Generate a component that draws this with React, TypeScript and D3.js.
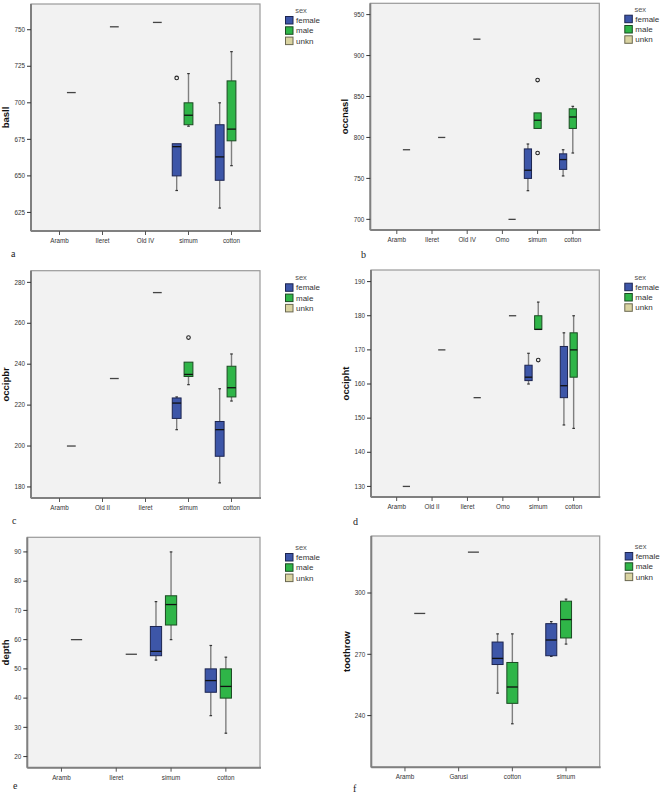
import React from "react";
import * as d3 from "d3";

type Box = { cat: string; sex: string; min: number; q1: number; med: number; q3: number; max: number };
type Out = { cat: string; sex: string; v: number };

const SEXES = ["female", "male", "unkn"];
const SEX_FILL: Record<string, string> = { female: "#3d56a8", male: "#2fb548", unkn: "#d9d3a1" };
const SEX_STROKE: Record<string, string> = { female: "#1c2450", male: "#1b4a22", unkn: "#6b6850" };

// ---- panel a : basll
const aCategories = ["Aramb", "Ileret", "Old IV", "simum", "cotton"];
const aTicks = [625, 650, 675, 700, 725, 750];
const aBoxes: Box[] = [
  { cat: "Aramb", sex: "unkn", min: 707, q1: 707, med: 707, q3: 707, max: 707 },
  { cat: "Ileret", sex: "unkn", min: 752, q1: 752, med: 752, q3: 752, max: 752 },
  { cat: "Old IV", sex: "unkn", min: 755, q1: 755, med: 755, q3: 755, max: 755 },
  { cat: "simum", sex: "female", min: 640, q1: 650, med: 670, q3: 672, max: 672 },
  { cat: "simum", sex: "male", min: 684, q1: 685, med: 691.5, q3: 700, max: 720 },
  { cat: "cotton", sex: "female", min: 628, q1: 647, med: 663, q3: 685, max: 700 },
  { cat: "cotton", sex: "male", min: 657, q1: 674, med: 682, q3: 715, max: 735 },
];
const aOutliers: Out[] = [{ cat: "simum", sex: "female", v: 717 }];

// ---- panel b : occnasl
const bCategories = ["Aramb", "Ileret", "Old IV", "Omo", "simum", "cotton"];
const bTicks = [700, 750, 800, 850, 900, 950];
const bBoxes: Box[] = [
  { cat: "Aramb", sex: "unkn", min: 785, q1: 785, med: 785, q3: 785, max: 785 },
  { cat: "Ileret", sex: "unkn", min: 800, q1: 800, med: 800, q3: 800, max: 800 },
  { cat: "Old IV", sex: "unkn", min: 920, q1: 920, med: 920, q3: 920, max: 920 },
  { cat: "Omo", sex: "unkn", min: 700, q1: 700, med: 700, q3: 700, max: 700 },
  { cat: "simum", sex: "female", min: 735, q1: 750, med: 760, q3: 786, max: 792 },
  { cat: "simum", sex: "male", min: 811, q1: 811, med: 821, q3: 830, max: 830 },
  { cat: "cotton", sex: "female", min: 753, q1: 761, med: 773, q3: 780, max: 785 },
  { cat: "cotton", sex: "male", min: 781, q1: 811, med: 825, q3: 835, max: 838 },
];
const bOutliers: Out[] = [
  { cat: "simum", sex: "male", v: 870 },
  { cat: "simum", sex: "male", v: 781 },
];

// ---- panel c : occipbr
const cCategories = ["Aramb", "Old II", "Ileret", "simum", "cotton"];
const cTicks = [180, 200, 220, 240, 260, 280];
const cBoxes: Box[] = [
  { cat: "Aramb", sex: "unkn", min: 200, q1: 200, med: 200, q3: 200, max: 200 },
  { cat: "Old II", sex: "unkn", min: 233, q1: 233, med: 233, q3: 233, max: 233 },
  { cat: "Ileret", sex: "unkn", min: 275, q1: 275, med: 275, q3: 275, max: 275 },
  { cat: "simum", sex: "female", min: 208, q1: 213.5, med: 221, q3: 223.5, max: 224 },
  { cat: "simum", sex: "male", min: 230, q1: 234, med: 235, q3: 241, max: 241 },
  { cat: "cotton", sex: "female", min: 182, q1: 195, med: 208, q3: 212, max: 228 },
  { cat: "cotton", sex: "male", min: 222, q1: 224, med: 228.5, q3: 239, max: 245 },
];
const cOutliers: Out[] = [{ cat: "simum", sex: "male", v: 253 }];

// ---- panel d : occipht
const dCategories = ["Aramb", "Old II", "Ileret", "Omo", "simum", "cotton"];
const dTicks = [130, 140, 150, 160, 170, 180, 190];
const dBoxes: Box[] = [
  { cat: "Aramb", sex: "unkn", min: 130, q1: 130, med: 130, q3: 130, max: 130 },
  { cat: "Old II", sex: "unkn", min: 170, q1: 170, med: 170, q3: 170, max: 170 },
  { cat: "Ileret", sex: "unkn", min: 156, q1: 156, med: 156, q3: 156, max: 156 },
  { cat: "Omo", sex: "unkn", min: 180, q1: 180, med: 180, q3: 180, max: 180 },
  { cat: "simum", sex: "female", min: 160, q1: 161, med: 162, q3: 165.5, max: 169 },
  { cat: "simum", sex: "male", min: 176, q1: 176, med: 176, q3: 180, max: 184 },
  { cat: "cotton", sex: "female", min: 148, q1: 156, med: 159.5, q3: 171, max: 175 },
  { cat: "cotton", sex: "male", min: 147, q1: 162, med: 170, q3: 175, max: 180 },
];
const dOutliers: Out[] = [{ cat: "simum", sex: "male", v: 167 }];

// ---- panel e : depth
const eCategories = ["Aramb", "Ileret", "simum", "cotton"];
const eTicks = [20, 30, 40, 50, 60, 70, 80, 90];
const eBoxes: Box[] = [
  { cat: "Aramb", sex: "unkn", min: 60, q1: 60, med: 60, q3: 60, max: 60 },
  { cat: "Ileret", sex: "unkn", min: 55, q1: 55, med: 55, q3: 55, max: 55 },
  { cat: "simum", sex: "female", min: 53, q1: 54.5, med: 56, q3: 64.5, max: 73 },
  { cat: "simum", sex: "male", min: 60, q1: 65, med: 72, q3: 75, max: 90 },
  { cat: "cotton", sex: "female", min: 34, q1: 42, med: 46, q3: 50, max: 58 },
  { cat: "cotton", sex: "male", min: 28, q1: 40, med: 44, q3: 50, max: 54 },
];
const eOutliers: Out[] = [];

// ---- panel f : toothrow
const fCategories = ["Aramb", "Garusi", "cotton", "simum"];
const fTicks = [240, 270, 300];
const fBoxes: Box[] = [
  { cat: "Aramb", sex: "unkn", min: 290, q1: 290, med: 290, q3: 290, max: 290 },
  { cat: "Garusi", sex: "unkn", min: 320, q1: 320, med: 320, q3: 320, max: 320 },
  { cat: "cotton", sex: "female", min: 251, q1: 265, med: 268, q3: 276, max: 280 },
  { cat: "cotton", sex: "male", min: 236, q1: 246, med: 254, q3: 266, max: 280 },
  { cat: "simum", sex: "female", min: 269, q1: 269.3, med: 277, q3: 285, max: 286 },
  { cat: "simum", sex: "male", min: 275, q1: 278, med: 287, q3: 296, max: 297 },
];
const fOutliers: Out[] = [];

type Panel = {
  title: string;
  letter: string;
  cats: string[];
  ticks: number[];
  boxes: Box[];
  outliers: Out[];
  domain: [number, number];
  x0: number; x1: number; y0: number; y1: number;
  pad: number;
  legendY: number;
  titleX: number;
  letterX: number; letterY: number;
};

const panels: Panel[] = [
  { title: "basll", letter: "a", cats: aCategories, ticks: aTicks, boxes: aBoxes, outliers: aOutliers,
    domain: [612.3, 767.6], x0: 31, x1: 260, y0: 4, y1: 231, pad: 0.663, legendY: 16, titleX: 6, letterX: 11, letterY: 257 },
  { title: "occnasl", letter: "b", cats: bCategories, ticks: bTicks, boxes: bBoxes, outliers: bOutliers,
    domain: [687, 963.8], x0: 370.3, x1: 599.3, y0: 3.3, y1: 230, pad: 0.753, legendY: 14.7, titleX: 345, letterX: 361, letterY: 258 },
  { title: "occipbr", letter: "c", cats: cCategories, ticks: cTicks, boxes: cBoxes, outliers: cOutliers,
    domain: [174.6, 285.7], x0: 31, x1: 260, y0: 270.7, y1: 498, pad: 0.663, legendY: 283.3, titleX: 6, letterX: 12, letterY: 524 },
  { title: "occipht", letter: "d", cats: dCategories, ticks: dTicks, boxes: dBoxes, outliers: dOutliers,
    domain: [126.9, 193.4], x0: 371, x1: 599.3, y0: 270, y1: 497, pad: 0.725, legendY: 282.7, titleX: 346, letterX: 353, letterY: 525 },
  { title: "depth", letter: "e", cats: eCategories, ticks: eTicks, boxes: eBoxes, outliers: eOutliers,
    domain: [16.2, 95], x0: 27.3, x1: 260, y0: 537.3, y1: 767.7, pad: 0.623, legendY: 553, titleX: 6, letterX: 13, letterY: 789 },
  { title: "toothrow", letter: "f", cats: fCategories, ticks: fTicks, boxes: fBoxes, outliers: fOutliers,
    domain: [214.7, 327.9], x0: 371.3, x1: 599.7, y0: 536, y1: 767.3, pad: 0.627, legendY: 552, titleX: 346.5, letterX: 353, letterY: 792 },
];

const SANS = "'Liberation Sans', Arial, Helvetica, sans-serif";

function PanelView({ p }: { p: Panel }) {
  const x = d3.scalePoint<string>().domain(p.cats).range([p.x0, p.x1]).padding(p.pad);
  const y = d3.scaleLinear().domain(p.domain).range([p.y1, p.y0]);
  const step = x.step();
  const slot = step * 0.275;
  const bw = step * 0.205;
  const sx = d3.scaleBand<string>().domain(SEXES).range([-1.5 * slot, 1.5 * slot]);
  const cx = (cat: string, sex: string) => (x(cat) as number) + (sx(sex) as number) + sx.bandwidth() / 2;
  const lx = p.x1 + 25;
  return (
    <g>
      <rect x={p.x0} y={p.y0} width={p.x1 - p.x0} height={p.y1 - p.y0} fill="#f2f2f2" stroke="#9a9a9a" strokeWidth={1.2} />
      <line x1={p.x0} x2={p.x0} y1={p.y0} y2={p.y1} stroke="#808080" strokeWidth={2} />
      <line x1={p.x0} x2={p.x1 + 1} y1={p.y1} y2={p.y1} stroke="#808080" strokeWidth={2} />
      {p.ticks.map((t) => (
        <g key={t}>
          <line x1={p.x0 - 4} x2={p.x0} y1={y(t)} y2={y(t)} stroke="#333" strokeWidth={1} />
          <text x={p.x0 - 6} y={y(t)} dy="0.35em" textAnchor="end" fontSize={6.3} fontFamily={SANS} fill="#333">{t}</text>
        </g>
      ))}
      {p.cats.map((c) => (
        <g key={c}>
          <line x1={x(c)} x2={x(c)} y1={p.y1} y2={p.y1 + 4} stroke="#555" strokeWidth={1} />
          <text x={x(c)} y={p.y1 + 12} textAnchor="middle" fontSize={6.3} fontFamily={SANS} fill="#333">{c}</text>
        </g>
      ))}
      {p.boxes.map((b, i) => {
        const c = cx(b.cat, b.sex);
        if (b.q1 === b.q3) {
          return <line key={i} x1={c - bw / 2} x2={c + bw / 2} y1={y(b.med)} y2={y(b.med)} stroke="#444" strokeWidth={1.3} />;
        }
        return (
          <g key={i}>
            {b.max > b.q3 && (
              <g>
                <line x1={c} x2={c} y1={y(b.q3)} y2={y(b.max)} stroke="#7f7f7f" strokeWidth={1.4} />
                <line x1={c - 1.3} x2={c + 1.3} y1={y(b.max)} y2={y(b.max)} stroke="#333" strokeWidth={1.2} />
              </g>
            )}
            {b.min < b.q1 && (
              <g>
                <line x1={c} x2={c} y1={y(b.q1)} y2={y(b.min)} stroke="#7f7f7f" strokeWidth={1.4} />
                <line x1={c - 1.3} x2={c + 1.3} y1={y(b.min)} y2={y(b.min)} stroke="#333" strokeWidth={1.2} />
              </g>
            )}
            <rect x={c - bw / 2} y={y(b.q3)} width={bw} height={y(b.q1) - y(b.q3)} fill={SEX_FILL[b.sex]} stroke={SEX_STROKE[b.sex]} strokeWidth={1} />
            <line x1={c - bw / 2} x2={c + bw / 2} y1={y(b.med)} y2={y(b.med)} stroke="#111" strokeWidth={1.3} />
          </g>
        );
      })}
      {p.outliers.map((o, i) => (
        <circle key={i} cx={cx(o.cat, o.sex)} cy={y(o.v)} r={1.8} fill="none" stroke="#222" strokeWidth={1.1} />
      ))}
      <text x={lx + 16} y={p.legendY - 3} textAnchor="middle" fontSize={7.5} fontFamily={SANS} fill="#555">sex</text>
      {SEXES.map((s, i) => (
        <g key={s}>
          <rect x={lx + 0.5} y={p.legendY + i * 10.3 + 0.5} width={7.5} height={7.5} fill={SEX_FILL[s]} stroke={SEX_STROKE[s]} strokeWidth={1} />
          <text x={lx + 11} y={p.legendY + i * 10.3 + 7} fontSize={8} fontFamily={SANS} fill="#333">{s}</text>
        </g>
      ))}
      <text transform={`translate(${p.titleX},${(p.y0 + p.y1) / 2}) rotate(-90)`} textAnchor="middle" dy="0.35em"
        fontSize={9.5} fontWeight="bold" fontFamily={SANS} fill="#111">{p.title}</text>
      <text x={p.letterX} y={p.letterY} fontSize={10} fontFamily="'Liberation Serif', 'Times New Roman', serif" fill="#222">{p.letter}</text>
    </g>
  );
}

export default function App() {
  return (
    <svg width={662} height={799} style={{ position: "absolute", left: 0, top: 0, background: "#fff" }}>
      {panels.map((p) => (
        <PanelView key={p.letter} p={p} />
      ))}
    </svg>
  );
}
